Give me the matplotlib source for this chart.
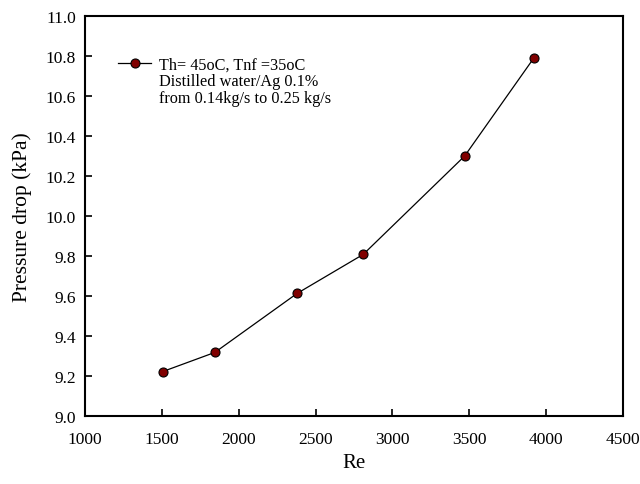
import matplotlib
matplotlib.use('Agg')
import matplotlib.pyplot as plt
from matplotlib.lines import Line2D

plt.rcParams['font.family'] = ['Liberation Serif', 'DejaVu Serif']

re_vals = [1505, 1845, 2380, 2810, 3470, 3920]
dp_kpa = [9.222, 9.318, 9.613, 9.808, 10.300, 10.790]
legend_lines = ['Th= 45oC, Tnf =35oC', 'Distilled water/Ag 0.1%', 'from 0.14kg/s to 0.25 kg/s']

fig = plt.figure(figsize=(6.4, 4.85), dpi=100)
ax = fig.add_axes([85/640, 1 - 417/485, 538/640, 400/485])

line, = ax.plot(re_vals, dp_kpa, color='black', lw=0.9, marker='o', markersize=6.5,
                markerfacecolor='#800000', markeredgecolor='black', markeredgewidth=0.8)

ax.set_xlim(1000, 4500)
ax.set_ylim(9.0, 11.0)
ax.set_xticks(range(1000, 4501, 500))
ax.set_yticks([9.0 + 0.2 * i for i in range(11)])
ax.set_yticklabels([f'{9.0 + 0.2 * i:.1f}' for i in range(11)])
ax.tick_params(direction='in', length=5, width=1.2, labelsize=12.5, top=False, right=False)
ax.tick_params(axis='x', pad=11)
ax.tick_params(axis='y', pad=6.5)
for s in ax.spines.values():
    s.set_linewidth(1.5)

ax.set_xlabel('Re', fontsize=15, labelpad=4)
ax.set_ylabel('Pressure drop (kPa)', fontsize=15.5, labelpad=10)

blank = Line2D([], [], linestyle='none', marker='none')
ax.legend([line, blank, blank], legend_lines, loc='upper left',
          bbox_to_anchor=(0.035, 0.935), frameon=False, fontsize=11.7,
          handlelength=2.0, handletextpad=0.5, labelspacing=0.04)

fig.savefig('out.png', dpi=100)
